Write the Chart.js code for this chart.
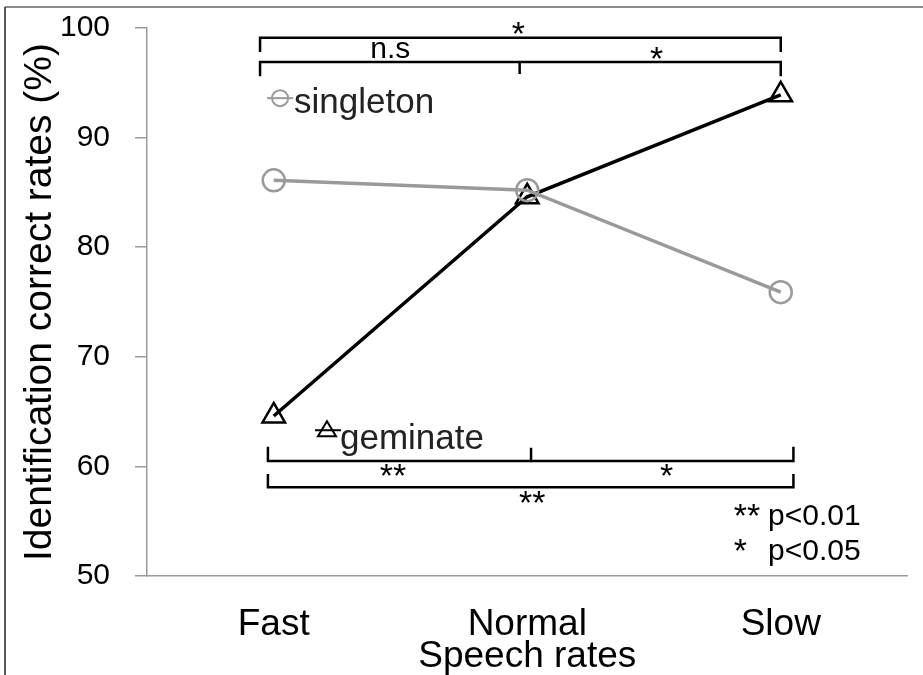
<!DOCTYPE html>
<html>
<head>
<meta charset="utf-8">
<script src="https://cdn.jsdelivr.net/npm/chart.js@4"></script>
<style>
  html, body { margin: 0; padding: 0; background: #fff; }
  #wrap { width: 923px; height: 675px; }
</style>
</head>
<body>
<div id="wrap"><canvas id="grafico"></canvas></div>
<script>
const categories = ['Fast', 'Normal', 'Slow']
const singletonRates = [86.1, 85.2, 75.9]
const geminateRates = [64.6, 84.6, 93.9]
const yTicks = [50, 60, 70, 80, 90, 100]
const seriesNames = ['singleton', 'geminate']
// significance marks: [Fast-Slow, Fast-Normal, Normal-Slow]
const singletonSig = ['*', 'n.s', '*']
const geminateSig = ['**', '**', '*']
const sigKey = [['**', 'p<0.01'], ['*', 'p<0.05']]

const FONT = '"Liberation Sans", Arial, Helvetica, sans-serif'
const GRAY = '#9a9a9a'

// frame around the figure
const framePlugin = {
    id: 'frame',
    beforeDraw(chart) {
        const ctx = chart.ctx
        ctx.save()
        ctx.strokeStyle = '#8a8a8a'
        ctx.lineWidth = 2
        ctx.beginPath()
        ctx.moveTo(5, 7)
        ctx.lineTo(923, 7)
        ctx.stroke()
        ctx.strokeStyle = '#222'
        ctx.lineWidth = 1.5
        ctx.beginPath()
        ctx.moveTo(5, 7)
        ctx.lineTo(5, 675)
        ctx.stroke()
        ctx.restore()
    }
}

// brackets, stars and inline series labels
const notesPlugin = {
    id: 'notes',
    afterDatasetsDraw(chart) {
        const ctx = chart.ctx
        const xs = chart.scales.x
        const ys = chart.scales.y
        const X = i => xs.getPixelForValue(i)
        const Y = v => ys.getPixelForValue(v)

        ctx.save()
        ctx.strokeStyle = '#000'
        ctx.lineWidth = 2.5
        ctx.lineJoin = 'miter'

        const path = pts => {
            ctx.beginPath()
            pts.forEach(([i, v], k) => k ? ctx.lineTo(X(i), Y(v)) : ctx.moveTo(X(i), Y(v)))
            ctx.stroke()
        }

        // singleton brackets (top)
        path([[-0.054, 97.8], [-0.054, 99.1], [2.0, 99.1], [2.0, 97.8]])
        path([[-0.054, 95.6], [-0.054, 96.9], [2.0, 96.9], [2.0, 95.6]])
        path([[0.97, 96.9], [0.97, 95.8]])

        // geminate brackets (bottom)
        path([[-0.023, 61.8], [-0.023, 60.5], [1.015, 60.5], [1.015, 61.7]])
        path([[1.015, 60.5], [2.05, 60.5], [2.05, 61.8]])
        path([[-0.023, 59.3], [-0.023, 58.1], [2.05, 58.1], [2.05, 59.3]])

        ctx.fillStyle = '#000'
        ctx.textAlign = 'center'
        ctx.textBaseline = 'alphabetic'
        ctx.font = '30px ' + FONT
        ctx.fillText(singletonSig[1], X(0.46), Y(97.26))
        ctx.font = '34px ' + FONT
        ctx.fillText(singletonSig[0], X(0.965), Y(98.45))
        ctx.fillText(singletonSig[2], X(1.51), Y(96.15))
        ctx.fillText(geminateSig[0], X(0.47), Y(58.15))
        ctx.fillText(geminateSig[2], X(1.55), Y(58.15))
        ctx.fillText(geminateSig[1], X(1.02), Y(55.7))

        // p-value key
        ctx.textAlign = 'left'
        ctx.fillText(sigKey[0][0], X(1.815), Y(54.5))
        ctx.fillText(sigKey[1][0], X(1.815), Y(51.3))
        ctx.font = '30px ' + FONT
        ctx.fillText(sigKey[0][1], X(1.95), Y(54.65))
        ctx.fillText(sigKey[1][1], X(1.95), Y(51.46))

        // inline series labels
        ctx.font = '35px ' + FONT
        ctx.fillStyle = '#222'
        const sx = X(0.025), sy = Y(93.6)
        ctx.strokeStyle = GRAY
        ctx.lineWidth = 2
        ctx.beginPath()
        ctx.moveTo(sx - 13, sy)
        ctx.lineTo(sx + 13, sy)
        ctx.stroke()
        ctx.beginPath()
        ctx.arc(sx, sy, 8, 0, Math.PI * 2)
        ctx.stroke()
        ctx.fillText(seriesNames[0], sx + 14, Y(92.2))

        const gx = X(0.21), gy = Y(63.3)
        ctx.strokeStyle = '#000'
        ctx.beginPath()
        ctx.moveTo(gx - 12, gy)
        ctx.lineTo(gx + 14, gy)
        ctx.stroke()
        ctx.beginPath()
        ctx.moveTo(gx, gy - 9)
        ctx.lineTo(gx + 9, gy + 6)
        ctx.lineTo(gx - 9, gy + 6)
        ctx.closePath()
        ctx.stroke()
        ctx.fillText(seriesNames[1], gx + 13, Y(61.6))
        ctx.restore()
    }
}

const ctx = document.getElementById('grafico').getContext('2d')
new Chart(ctx, {
    type: 'line',
    data: {
        labels: categories,
        datasets: [{
            label: seriesNames[0],
            data: singletonRates,
            borderColor: GRAY,
            borderWidth: 3.5,
            pointStyle: 'circle',
            pointRadius: 11,
            pointBorderWidth: 2.5,
            pointBorderColor: GRAY,
            pointBackgroundColor: 'rgba(255, 255, 255, 0)',
            tension: 0
        }, {
            label: seriesNames[1],
            data: geminateRates,
            borderColor: '#000',
            borderWidth: 3.5,
            pointStyle: 'triangle',
            pointRadius: 13,
            pointBorderWidth: 2.5,
            pointBorderColor: '#000',
            pointBackgroundColor: 'rgba(255, 255, 255, 0)',
            tension: 0
        }]
    },
    options: {
        responsive: true,
        maintainAspectRatio: false,
        animation: false,
        layout: {
            padding: { top: 28, right: 3, left: 0, bottom: 0 }
        },
        plugins: {
            legend: { display: false },
            tooltip: { enabled: false }
        },
        scales: {
            x: {
                offset: true,
                afterFit: scale => { scale.height = 99 },
                grid: { display: false, drawTicks: false },
                border: { display: true, color: GRAY, width: 1.5 },
                ticks: {
                    color: '#000',
                    padding: 27,
                    font: { family: FONT, size: 37 }
                },
                title: {
                    display: true,
                    text: 'Speech rates',
                    color: '#000',
                    padding: { top: 0, bottom: 0 },
                    font: { family: FONT, size: 37, lineHeight: 1.0 }
                }
            },
            y: {
                min: 50,
                max: 100,
                afterFit: scale => {
                    scale.width = 147
                    scale.paddingTop = 10
                    scale.paddingBottom = 10
                },
                afterBuildTicks: scale => {
                    scale.ticks = yTicks.map(v => ({ value: v }))
                },
                grid: {
                    drawOnChartArea: false,
                    drawTicks: true,
                    tickLength: 12,
                    color: GRAY,
                    lineWidth: 1.5
                },
                border: { display: true, color: GRAY, width: 1.5 },
                ticks: {
                    color: '#000',
                    padding: 25,
                    font: { family: FONT, size: 30 }
                },
                title: {
                    display: true,
                    text: 'Identification correct rates (%)',
                    color: '#000',
                    padding: { top: 17, bottom: 0 },
                    font: { family: FONT, size: 39, lineHeight: 1.2 }
                }
            }
        }
    },
    plugins: [framePlugin, notesPlugin]
})
</script>
</body>
</html>
